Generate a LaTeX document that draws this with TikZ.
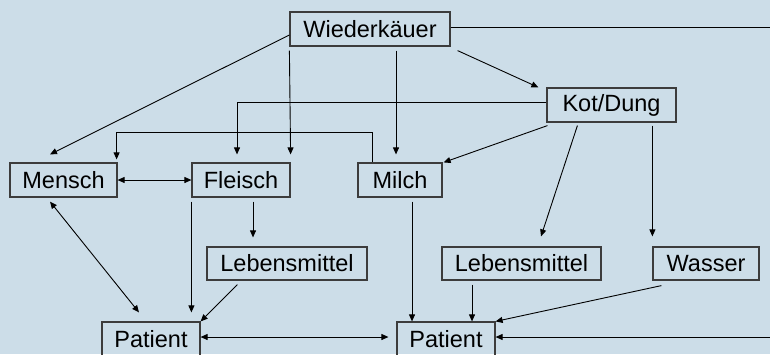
\documentclass[tikz,border=0pt]{standalone}
\usepackage{fontspec}
\setmainfont{Liberation Sans}
\usetikzlibrary{arrows.meta,calc}
\definecolor{bg}{RGB}{204,221,232}
\definecolor{boxline}{RGB}{60,60,60}
\begin{document}
\begin{tikzpicture}[x=1pt,y=-1pt,
  box/.style={draw=boxline,line width=1.2pt,minimum height=34pt,inner sep=0pt,font=\fontsize{23.5}{28}\selectfont},
  arr/.style={-{Triangle[length=7pt,width=6pt]},line width=0.9pt},
  darr/.style={{Triangle[length=7pt,width=6pt]}-{Triangle[length=7pt,width=6pt]},line width=0.9pt},
  ln/.style={line width=0.9pt}]
\fill[bg] (0,0) rectangle (770,354);
\useasboundingbox (0,0) rectangle (770,354);
\clip (0,0) rectangle (770,354);
% nodes
\node[box,minimum width=160pt] (W) at (370,29) {Wiederkäuer};
\node[box,minimum width=129pt] (K) at (611.5,105) {Kot/Dung};
\node[box,minimum width=107pt] (Me) at (63.5,180) {Mensch};
\node[box,minimum width=98pt] (F) at (241,180) {Fleisch};
\node[box,minimum width=84pt] (Mi) at (400,180) {Milch};
\node[box,minimum width=160pt,minimum height=33pt] (L1) at (287,263.5) {Lebensmittel};
\node[box,minimum width=159pt,minimum height=33pt] (L2) at (521.5,263.5) {Lebensmittel};
\node[box,minimum width=106pt,minimum height=33pt] (Wa) at (706,263.5) {Wasser};
\node[box,minimum width=98pt] (P1) at (151,339) {Patient};
\node[box,minimum width=98pt] (P2) at (446,339) {Patient};
\coordinate (r2) at (790,337);
% connectors from Wiederkäuer
\draw[arr] ($(W.west)+(0,6)$) -- ($(Me.north)+(-13.5,-8)$);
\draw[arr] ($(W.south west)+(0,4)$) -- ($(F.north east)+(0,-8)$);
\draw[arr] ($(W.south -| Mi.north)+(-4,4)$) -- ($(Mi.north)+(-4,-8)$);
\draw[arr] ($(W.south east)+(7,4)$) -- ($(K.north west)+(-8,0)$);
\draw[arr] ($(W.east)+(0,-2)$) -| (r2) -- ($(P2.east)+(0,-2)$);
% connectors from Kot/Dung
\draw[arr] ($(K.west)+(0,-3)$) -| ($(F.north)+(-4,-8)$);
\draw[arr] ($(K.south west)+(1,3)$) -- ($(Mi.north east)+(1,0)$);
\draw[arr] ($(K.south west)+(31,3)$) -- ($(L2.north)+(19.5,-10)$);
\draw[arr] ($(K.south -| Wa.north west)+(0,3)$) -- ($(Wa.north west)+(0,-10)$);
% Milch to Mensch
\draw[arr] ($(Mi.north west)+(15,0)$) -- ($(Mi.north west)+(15,-30)$) -| ($(Me.north east)+(-1,-3)$);
% middle row
\draw[darr] (Me.east) -- (F.west);
\draw[darr] ($(Me.south)+(-13.5,4)$) -- ($(P1.north)+(-12,-9)$);
\draw[arr] ($(F.south west)+(0,4)$) -- ($(F.south west |- P1.north)+(0,-9)$);
\draw[arr] ($(F.south)+(12,4)$) -- ($(F.south |- L1.north)+(12,-9)$);
\draw[arr] ($(L1.south west)+(31,4)$) -- (P1.north east);
\draw[darr,shorten >=8pt] ($(P1.east)+(0,-2)$) -- ($(P2.west)+(0,-2)$);
\draw[arr] ($(Mi.south)+(12,4)$) -- ($(Mi.south |- P2.north)+(12,0)$);
\draw[arr] ($(L2.south)+(-49.5,4)$) -- ($(L2.south |- P2.north)+(-49.5,0)$);
\draw[arr] ($(Wa.south west)+(9,5)$) -- (P2.north east);
\end{tikzpicture}
\end{document}
